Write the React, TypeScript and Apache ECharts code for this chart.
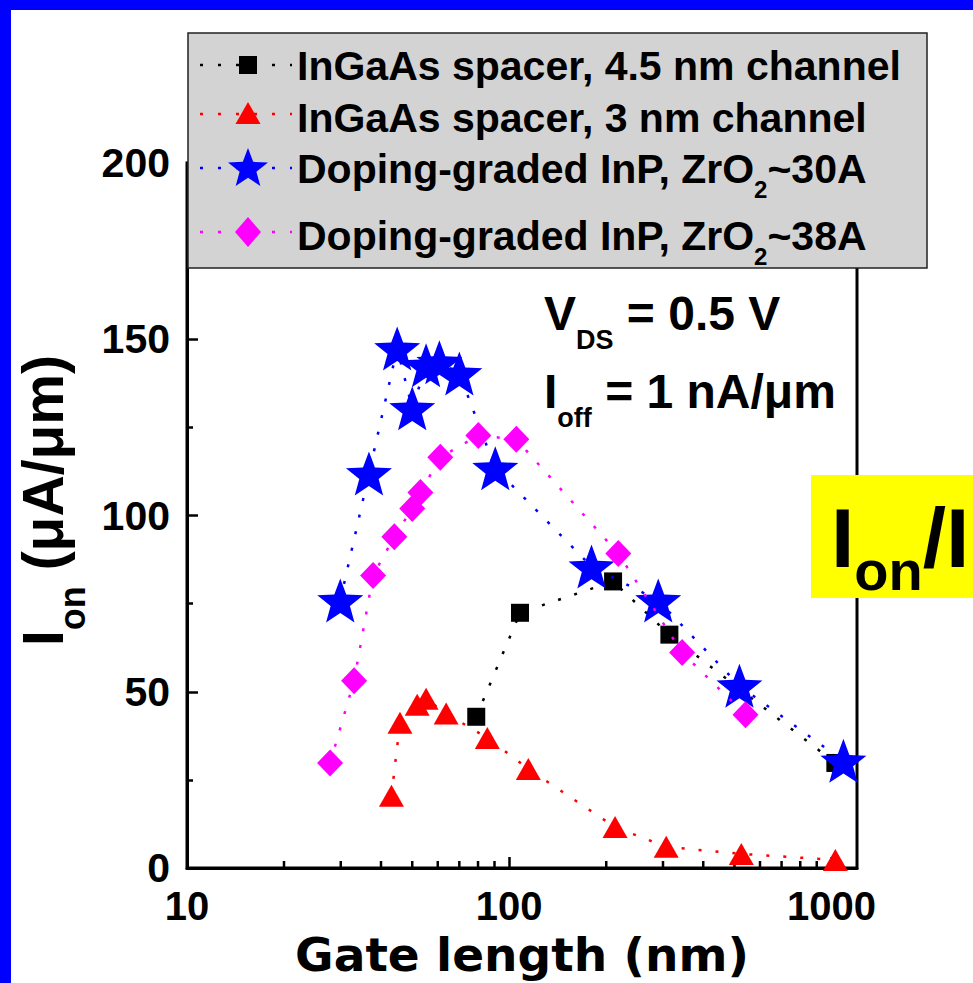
import React, { useEffect, useRef } from "react";
import * as echarts from "echarts";

// ---------- data ----------
const seriesNames = [
  "InGaAs spacer, 4.5 nm channel",
  "InGaAs spacer, 3 nm channel",
  "Doping-graded InP, ZrO2~30A",
  "Doping-graded InP, ZrO2~38A",
];
const spacer45X = [79, 108, 210, 314, 1028];
const spacer45Y = [42.9, 72.4, 81.3, 66.2, 29.8];

const spacer3X = [43.1, 45.8, 51.8, 55.2, 63.7, 85.5, 114.6, 213, 307, 525, 1028];
const spacer3Y = [20.5, 41.2, 46.3, 48.0, 43.8, 36.9, 28.1, 11.6, 6.0, 4.0, 2.3];

const inp30X = [29.9, 36.7, 44.9, 50.0, 55.2, 60.7, 70.0, 90.5, 180, 290, 518, 1089];
const inp30Y = [75.9, 111.9, 147.4, 130.4, 142.6, 143.5, 140.3, 113.4, 85.5, 75.9, 51.7, 30.4];

const inp38X = [27.8, 33.0, 37.8, 44.0, 50.0, 53.0, 61.1, 80.2, 105.2, 218, 344, 541];
const inp38Y = [29.8, 53.1, 83.0, 94.0, 102.0, 106.5, 116.5, 122.7, 121.6, 89.2, 61.1, 43.5];

const xMajorTicks = [10, 100, 1000];
const xMinorTicks = [20, 30, 40, 50, 60, 70, 80, 90, 200, 300, 400, 500, 600, 700, 800, 900];
const yTicks = [0, 50, 100, 150, 200];

// ---------- styling helpers ----------
const FONT = "'Liberation Sans', Arial, Helvetica, sans-serif";
const colors = ["#000000", "#ff0000", "#0000ff", "#ff00ff"];

const zip = (xs: number[], ys: number[]) => xs.map((x, i) => [x, ys[i]]);

function starPts(cx: number, cy: number, R: number, ratio: number) {
  const pts: number[][] = [];
  for (let i = 0; i < 10; i++) {
    const r = i % 2 === 0 ? R : R * ratio;
    const a = -Math.PI / 2 + (i * Math.PI) / 5;
    pts.push([cx + r * Math.cos(a), cy + r * Math.sin(a)]);
  }
  return pts;
}
const starSymbol =
  "path://M" +
  starPts(0, 0, 1, 0.42)
    .map((p) => p[0].toFixed(4) + "," + p[1].toFixed(4))
    .join("L") +
  "Z";

function isPow10(v: number) {
  const l = Math.log10(v);
  return Math.abs(l - Math.round(l)) < 1e-6;
}

export default function App() {
  const ref = useRef<HTMLDivElement>(null);

  useEffect(() => {
    if (!ref.current) return;
    const chart = echarts.init(ref.current, undefined, { renderer: "svg" });

    const lineStyle = (c: string) => ({ color: c, width: 2.5, type: [3, 14] as any });

    const mainTxt = (size: number, color = "#000") => ({
      fontFamily: FONT,
      fontWeight: "bold",
      fontSize: size,
      lineHeight: size,
      color,
      verticalAlign: "top",
    });
    const subTxt = (size: number, pad: number, color = "#000") => ({
      fontFamily: FONT,
      fontWeight: "bold",
      fontSize: size,
      lineHeight: size,
      color,
      padding: [pad, 0, 0, 0],
      verticalAlign: "top",
    });

    const legendTexts = [
      "{m|InGaAs spacer, 4.5 nm channel}",
      "{m|InGaAs spacer, 3 nm channel}",
      "{m|Doping-graded InP, ZrO}{s|2}{m|~30A}",
      "{m|Doping-graded InP, ZrO}{s|2}{m|~38A}",
    ];
    const rowCY = [65, 114, 168, 232];
    const rowTextTop = [45, 97, 148, 215];
    const iconCX = 248;

    const graphic: any[] = [];
    // legend box
    graphic.push({
      type: "rect",
      z: 100,
      shape: { x: 188, y: 33, width: 739, height: 235 },
      style: { fill: "#d3d3d3", stroke: "#222", lineWidth: 1.5 },
    });
    rowCY.forEach((cy, i) => {
      graphic.push({
        type: "line",
        z: 101,
        shape: { x1: 200, y1: cy, x2: 292, y2: cy },
        style: { stroke: colors[i], lineWidth: 2.5, lineDash: [3, 15] },
      });
    });
    graphic.push({
      type: "rect",
      z: 102,
      shape: { x: iconCX - 9, y: rowCY[0] - 9, width: 18, height: 18 },
      style: { fill: colors[0] },
    });
    graphic.push({
      type: "polygon",
      z: 102,
      shape: {
        points: [
          [iconCX - 12.5, rowCY[1] + 10],
          [iconCX, rowCY[1] - 12],
          [iconCX + 12.5, rowCY[1] + 10],
        ],
      },
      style: { fill: colors[1] },
    });
    graphic.push({
      type: "polygon",
      z: 102,
      shape: { points: starPts(iconCX, rowCY[2] + 1, 21, 0.42) },
      style: { fill: colors[2] },
    });
    graphic.push({
      type: "polygon",
      z: 102,
      shape: {
        points: [
          [iconCX, rowCY[3] - 15],
          [iconCX + 13, rowCY[3]],
          [iconCX, rowCY[3] + 15],
          [iconCX - 13, rowCY[3]],
        ],
      },
      style: { fill: colors[3] },
    });
    legendTexts.forEach((t, i) => {
      graphic.push({
        type: "text",
        z: 102,
        x: 297,
        y: rowTextTop[i],
        style: {
          text: t,
          textAlign: "left",
          textVerticalAlign: "top",
          rich: { m: mainTxt(41), s: subTxt(24, 29) },
        },
      });
    });

    // annotations
    graphic.push({
      type: "text",
      z: 102,
      x: 544,
      y: 289,
      style: {
        text: "{m|V}{s|DS}{m| = 0.5 V}",
        textAlign: "left",
        textVerticalAlign: "top",
        rich: { m: mainTxt(48), s: subTxt(27, 37) },
      },
    });
    graphic.push({
      type: "text",
      z: 102,
      x: 544,
      y: 367,
      style: {
        text: "{m|I}{s|off}{m| = 1 nA/\u03bcm}",
        textAlign: "left",
        textVerticalAlign: "top",
        rich: { m: mainTxt(48), s: subTxt(27, 37) },
      },
    });

    // yellow box
    graphic.push({
      type: "rect",
      z: 100,
      shape: { x: 811, y: 475, width: 170, height: 123 },
      style: { fill: "#ffff00" },
    });
    graphic.push({
      type: "text",
      z: 102,
      x: 831,
      y: 496,
      style: {
        text: "{m|I}{s|on}{m|/I}",
        textAlign: "left",
        textVerticalAlign: "top",
        rich: {
          m: mainTxt(84, "#0000b0"),
          s: subTxt(56, 46, "#0000b0"),
        },
      },
    });

    // blue frame
    graphic.push({ type: "rect", z: 200, shape: { x: 0, y: 0, width: 11, height: 983 }, style: { fill: "#0000ff" } });
    graphic.push({ type: "rect", z: 200, shape: { x: 0, y: 0, width: 973, height: 10 }, style: { fill: "#0000ff" } });

    const option: any = {
      animation: false,
      backgroundColor: "#ffffff",
      grid: {
        left: 187,
        right: 116,
        top: 163,
        bottom: 115,
        show: true,
        borderColor: "#000",
        borderWidth: 3,
        backgroundColor: "transparent",
      },
      xAxis: {
        type: "log",
        logBase: 10,
        min: xMajorTicks[0],
        max: 1200,
        name: "Gate length (nm)",
        nameLocation: "middle",
        nameGap: 62,
        nameTextStyle: {
          fontFamily: "'DejaVu Sans', sans-serif",
          fontWeight: "bold",
          fontSize: 47,
          lineHeight: 47,
          color: "#000",
        },
        axisLine: { show: true, lineStyle: { color: "#000", width: 3 } },
        axisTick: { show: true, inside: true, length: 11, lineStyle: { color: "#000", width: 2.5 } },
        axisLabel: {
          fontFamily: FONT,
          fontWeight: "bold",
          fontSize: 40,
          color: "#000",
          margin: 18,
          showMaxLabel: false,
          formatter: (v: number) => (isPow10(v) ? String(Math.round(v)) : ""),
        },
        splitLine: { show: false },
      },
      yAxis: {
        type: "value",
        min: yTicks[0],
        max: yTicks[yTicks.length - 1],
        interval: 50,
        name: "{m|I}{s|on}{m| (\u03bcA/\u03bcm)}",
        nameLocation: "middle",
        nameGap: 90,
        nameTextStyle: {
          padding: [0, 0, 0, 30],
          rich: {
            m: mainTxt(57),
            s: subTxt(36, 40),
          },
        },
        axisLine: { show: true, lineStyle: { color: "#000", width: 3 } },
        axisTick: { show: true, inside: true, length: 11, lineStyle: { color: "#000", width: 2.5 } },
        minorTick: { show: true, splitNumber: 2, length: 6, lineStyle: { color: "#000", width: 2.5 } },
        axisLabel: { fontFamily: FONT, fontWeight: "bold", fontSize: 41, color: "#000", margin: 17 },
        splitLine: { show: false },
      },
      graphic,
      series: [
        {
          type: "custom",
          name: "minor ticks",
          silent: true,
          clip: false,
          z: 4,
          data: xMinorTicks.map((v) => [v, 0]),
          renderItem: (_p: any, api: any) => {
            const p = api.coord([api.value(0), 0]);
            return {
              type: "line",
              shape: { x1: p[0], y1: p[1] - 1, x2: p[0], y2: p[1] - 7 },
              style: { stroke: "#000", lineWidth: 2.5 },
            };
          },
        },
        {
          type: "line",
          name: seriesNames[0],
          data: zip(spacer45X, spacer45Y),
          symbol: "rect",
          symbolSize: 18,
          itemStyle: { color: colors[0] },
          lineStyle: lineStyle(colors[0]),
          z: 5,
        },
        {
          type: "line",
          name: seriesNames[1],
          data: zip(spacer3X, spacer3Y),
          symbol: "triangle",
          symbolSize: [25, 22],
          itemStyle: { color: colors[1] },
          lineStyle: lineStyle(colors[1]),
          z: 6,
        },
        {
          type: "line",
          name: seriesNames[2],
          data: zip(inp30X, inp30Y),
          symbol: starSymbol,
          symbolSize: [46, 44],
          itemStyle: { color: colors[2] },
          lineStyle: lineStyle(colors[2]),
          z: 7,
        },
        {
          type: "line",
          name: seriesNames[3],
          data: zip(inp38X, inp38Y),
          symbol: "diamond",
          symbolSize: [26, 27],
          itemStyle: { color: colors[3] },
          lineStyle: lineStyle(colors[3]),
          z: 8,
        },
      ],
    };

    chart.setOption(option);
    return () => chart.dispose();
  }, []);

  return (
    <div
      ref={ref}
      style={{ position: "fixed", left: 0, top: 0, width: 973, height: 983, background: "#fff" }}
    />
  );
}
